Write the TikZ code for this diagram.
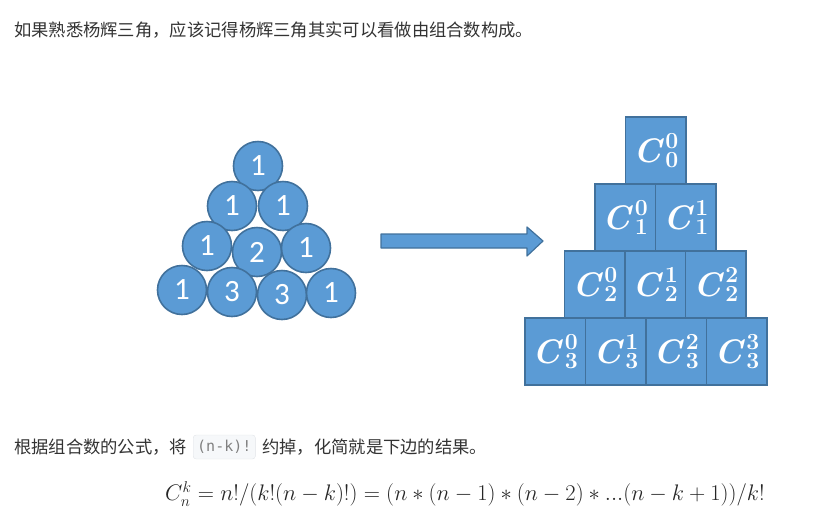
\documentclass[tikz,border=0pt]{standalone}
\usepackage{amsmath}
\usepackage{fontspec}
\usepackage{xcolor}
\usetikzlibrary{positioning,calc}
\newfontfamily\cjk{Noto Sans CJK SC}
\newfontfamily\ballfont{Carlito}
\newfontfamily\codefont{DejaVu Sans Mono}
\definecolor{ballblue}{HTML}{5B9BD5}
\definecolor{balledge}{HTML}{41719C}
\definecolor{txtgray}{HTML}{333333}
\definecolor{codebg}{HTML}{F6F8FA}
\definecolor{codeedge}{HTML}{E1E4E8}
% C with stacked upper/lower digit
\newcommand{\cnk}[2]{{\fontsize{34}{34}\selectfont\bfseries\itshape C}\kern4pt\raisebox{-5pt}{\fontsize{23}{19}\selectfont\bfseries\vbox{\baselineskip=19.5pt\hbox{#2}\hbox{#1}}}}

\begin{document}
\begin{tikzpicture}[x=1pt,y=-1pt,
		ball/.style={circle,draw=balledge,line width=1.6pt,fill=ballblue,minimum size=49pt,inner sep=0pt,text=white,font=\ballfont\fontsize{31}{31}\selectfont},
		cbox/.style={rectangle,draw=balledge,line width=1.4pt,fill=ballblue,minimum width=60.5pt,minimum height=67pt,inner sep=0pt,text=white},
		cjktext/.style={anchor=west,inner sep=0pt,text=txtgray,font=\cjk\fontsize{17.3}{17.3}\selectfont}]
			\useasboundingbox (0,0) rectangle (815,523);
			
			\node[cjktext] (intro) at (14,30) {如果熟悉杨辉三角，应该记得杨辉三角其实可以看做由组合数构成。};
			
			% balls, measured by hand
			\foreach \i/\x/\y/\v in {0/258/166/1, 1/232/206/1, 2/283/206/1, 3/207/246/1, 4/257/252/2, 5/306/248/1, 6/182/290/1, 7/232/292/3, 8/282/295/3, 9/331/293/1} {
				\node[ball] (ball\i) at (\x,\y) {\v};
			}
			
			% fat arrow
			\draw[balledge,line width=1.2pt,fill=ballblue,line join=round] (381,234) -- (527,234) -- (527,227) -- (543,241) -- (527,256) -- (527,248) -- (381,248) -- cycle;
			
			% rows of C boxes, bottom row sits a bit to the left
			\foreach \r/\lx in {0/625.5,1/595,2/564.5,3/525} {
				\foreach \c in {0,...,\r} {
					\node[cbox] (box\r\c) at ({\lx+60.5*\c+30.25},{117+67*\r+33.5}) {\cnk{\r}{\c}\hspace{8pt}};
				}
			}
			
			\node[cjktext] (rule1) at (14,447) {根据组合数的公式，将};
			\node[anchor=west,fill=codebg,draw=codeedge,rounded corners=3pt,minimum height=24pt,inner xsep=4pt,text=gray,font=\codefont\fontsize{15}{15}\selectfont] (code) at (193,447) {(n-k)!};
			\node[cjktext] (rule2) at (262,447) {约掉，化简就是下边的结果。};
			
			\node[inner sep=0pt,text=black!85,font=\fontsize{20.74}{20.74}\selectfont] (formula) at (465,494) {\scalebox{1.085}{$C_n^k=n!/(k!(n-k)!)=(n*(n-1)*(n-2)*...(n-k+1))/k!$}};
		\end{tikzpicture}
\end{document}
